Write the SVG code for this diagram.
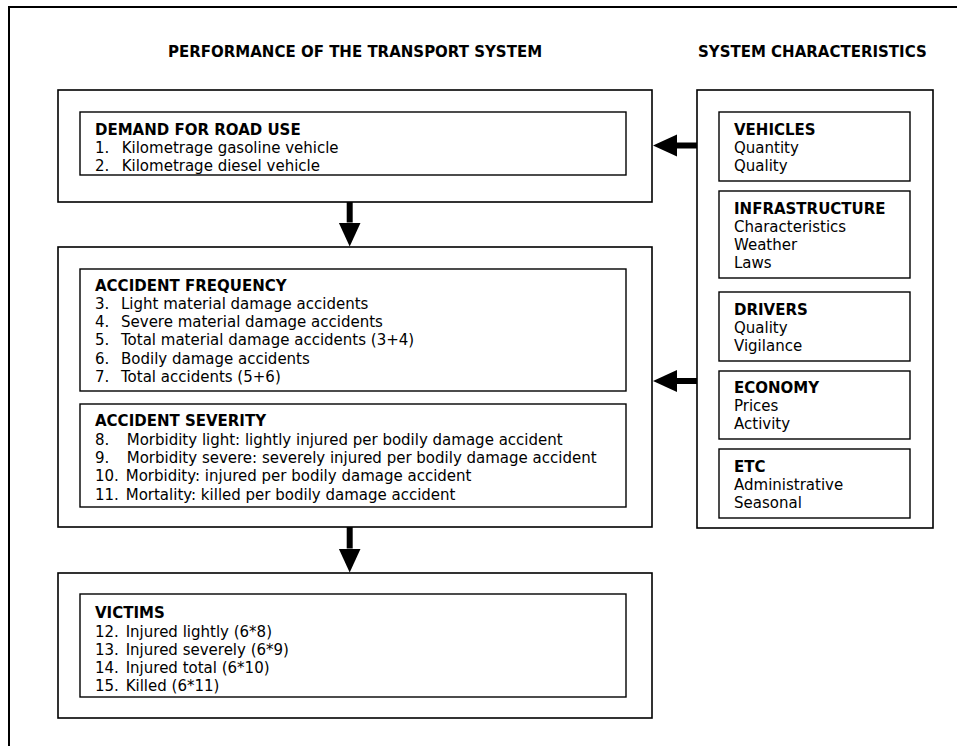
<svg xmlns="http://www.w3.org/2000/svg" width="957" height="746" viewBox="0 0 957 746">
<style>
text{font-family:"DejaVu Sans",Verdana,sans-serif;font-size:15px;fill:#000}
.h{font-weight:bold}
.ob{fill:#fff;stroke:#000;stroke-width:1.6}
.ib{fill:#fff;stroke:#000;stroke-width:1.4}
.conn{stroke:#000;stroke-width:6;fill:none}
</style>
<defs>
<marker id="ah" markerUnits="userSpaceOnUse" markerWidth="25" markerHeight="24" refX="0" refY="11" orient="auto">
<path d="M0,0 L24,11 L0,22 z" fill="#000"/>
</marker>
</defs>
<rect width="957" height="746" fill="#fff"/>
<g id="frame">
<line x1="9" y1="7" x2="957" y2="7" stroke="#000" stroke-width="2"/>
<line x1="9" y1="6" x2="9" y2="746" stroke="#000" stroke-width="2"/>
</g>
<g id="titles" class="h">
<text x="168" y="57" class="h">PERFORMANCE OF THE TRANSPORT SYSTEM</text>
<text x="698" y="57" class="h">SYSTEM CHARACTERISTICS</text>
</g>
<g id="demand">
<rect class="ob" x="58" y="90" width="594" height="112"/>
<rect class="ib" x="80" y="112" width="546" height="63"/>
<text x="95" y="135" class="h">DEMAND FOR ROAD USE</text>
<text y="153"><tspan x="95">1.</tspan><tspan x="121.7">Kilometrage gasoline vehicle</tspan></text>
<text y="171"><tspan x="95">2.</tspan><tspan x="121.7">Kilometrage diesel vehicle</tspan></text>
</g>
<g id="accidents">
<rect class="ob" x="58" y="247" width="594" height="280"/>
<rect class="ib" x="80" y="269" width="546" height="122"/>
<text x="95" y="291" class="h">ACCIDENT FREQUENCY</text>
<text y="309"><tspan x="95">3.</tspan><tspan x="121">Light material damage accidents</tspan></text>
<text y="327.3"><tspan x="95">4.</tspan><tspan x="121">Severe material damage accidents</tspan></text>
<text y="345.3"><tspan x="95">5.</tspan><tspan x="121">Total material damage accidents (3+4)</tspan></text>
<text y="363.5"><tspan x="95">6.</tspan><tspan x="121">Bodily damage accidents</tspan></text>
<text y="381.7"><tspan x="95">7.</tspan><tspan x="121">Total accidents (5+6)</tspan></text>
<rect class="ib" x="80" y="404" width="546" height="103"/>
<text x="95" y="426" class="h">ACCIDENT SEVERITY</text>
<text y="445"><tspan x="95">8.</tspan><tspan x="126.7">Morbidity light: lightly injured per bodily damage accident</tspan></text>
<text y="463.3"><tspan x="95">9.</tspan><tspan x="126.7">Morbidity severe: severely injured per bodily damage accident</tspan></text>
<text y="481.3"><tspan x="95">10.</tspan><tspan x="125.7">Morbidity: injured per bodily damage accident</tspan></text>
<text y="499.7"><tspan x="95">11.</tspan><tspan x="125.7">Mortality: killed per bodily damage accident</tspan></text>
</g>
<g id="victims">
<rect class="ob" x="58" y="573" width="594" height="145"/>
<rect class="ib" x="80" y="594" width="546" height="103"/>
<text x="95" y="618.3" class="h">VICTIMS</text>
<text y="636.7"><tspan x="95">12.</tspan><tspan x="125.7">Injured lightly (6*8)</tspan></text>
<text y="654.5"><tspan x="95">13.</tspan><tspan x="125.7">Injured severely (6*9)</tspan></text>
<text y="672.5"><tspan x="95">14.</tspan><tspan x="125.7">Injured total (6*10)</tspan></text>
<text y="690.7"><tspan x="95">15.</tspan><tspan x="125.7">Killed (6*11)</tspan></text>
</g>
<g id="characteristics">
<rect class="ob" x="697" y="90" width="236" height="438"/>
</g>
<g id="vehicles">
<rect class="ib" x="719" y="112" width="191" height="69"/>
<text x="734" y="135" class="h">VEHICLES</text>
<text x="734" y="153">Quantity</text>
<text x="734" y="171">Quality</text>
</g>
<g id="infrastructure">
<rect class="ib" x="719" y="191" width="191" height="87"/>
<text x="734" y="214" class="h">INFRASTRUCTURE</text>
<text x="734" y="232">Characteristics</text>
<text x="734" y="250">Weather</text>
<text x="734" y="267.5">Laws</text>
</g>
<g id="drivers">
<rect class="ib" x="719" y="292" width="191" height="69"/>
<text x="734" y="315" class="h">DRIVERS</text>
<text x="734" y="333.3">Quality</text>
<text x="734" y="351">Vigilance</text>
</g>
<g id="economy">
<rect class="ib" x="719" y="371" width="191" height="68"/>
<text x="734" y="393.3" class="h">ECONOMY</text>
<text x="734" y="411">Prices</text>
<text x="734" y="429">Activity</text>
</g>
<g id="etc">
<rect class="ib" x="719" y="449" width="191" height="69"/>
<text x="734" y="472" class="h">ETC</text>
<text x="734" y="490">Administrative</text>
<text x="734" y="507.7">Seasonal</text>
</g>
<g id="connectors">
<line class="conn" x1="697" y1="145.5" x2="677" y2="145.5" marker-end="url(#ah)"/>
<line class="conn" x1="697" y1="381" x2="677" y2="381" marker-end="url(#ah)"/>
<line class="conn" x1="349.7" y1="202" x2="349.7" y2="222.5" marker-end="url(#ah)"/>
<line class="conn" x1="349.7" y1="527" x2="349.7" y2="548.5" marker-end="url(#ah)"/>
</g>
</svg>
